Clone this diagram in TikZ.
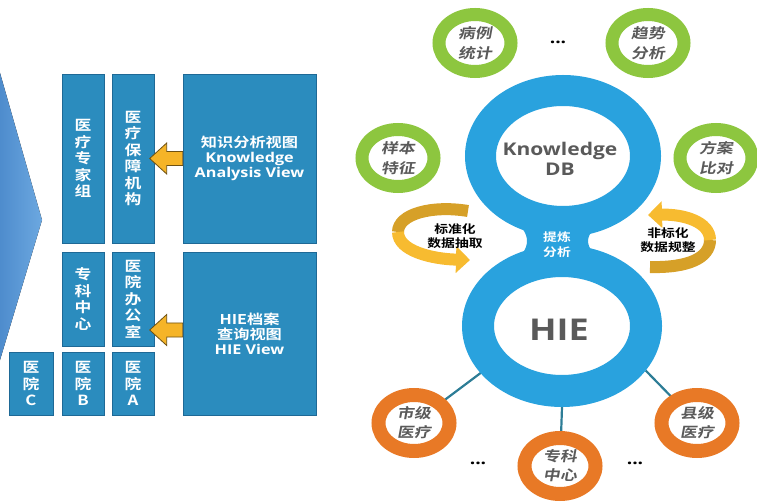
\documentclass[tikz,border=0pt]{standalone}
\usepackage{fontspec}
\usetikzlibrary{shapes.geometric,arrows.meta,calc}
\newfontfamily\cjkb[FakeStretch=1.2]{Noto Sans CJK SC Bold}
\newfontfamily\cjki[FakeStretch=1.2,FakeSlant=0.18]{Noto Sans CJK SC Bold}
\newfontfamily\latb[FakeStretch=1.2]{Open Sans}

\definecolor{boxblue}{RGB}{43,140,190}
\definecolor{boxedge}{RGB}{30,105,150}
\definecolor{chevdark}{RGB}{78,140,205}
\definecolor{chevlight}{RGB}{108,168,224}
\definecolor{ringblue}{RGB}{41,162,222}
\definecolor{leafgreen}{RGB}{141,198,63}
\definecolor{ringorange}{RGB}{232,121,38}
\definecolor{arrowgold}{RGB}{245,180,40}
\definecolor{bandfront}{RGB}{247,187,48}
\definecolor{bandback}{RGB}{214,160,40}
\definecolor{linkteal}{RGB}{45,125,150}
\definecolor{textgray}{RGB}{90,90,90}

\pgfdeclarelayer{back}
\pgfsetlayers{back,main}

\begin{document}
\begin{tikzpicture}[x=1pt,y=-1pt,
  panel/.style={draw=boxedge, line width=0.6pt, fill=boxblue, text=white,
    inner sep=0pt, align=center},
  vbox/.style={panel, minimum width=42pt, font=\cjkb\fontsize{14}{16.5}\selectfont},
  viewbox/.style={panel, minimum width=133pt, font=\fontsize{13.5}{15}\selectfont},
  lift/.style={fill=arrowgold, draw=black!55!arrowgold, line width=0.8pt},
  leaf/.style={ellipse, draw=leafgreen, fill=white, line width=13pt,
    minimum width=72pt, minimum height=57pt, inner sep=0pt, align=center,
    text=textgray, font=\cjki\fontsize{14}{20}\selectfont},
  site/.style={leaf, draw=ringorange, line width=14pt, minimum width=71pt,
    minimum height=56pt, font=\cjki\fontsize{14}{19}\selectfont},
  ring/.style={ellipse, draw=ringblue, fill=white, inner sep=0pt},
  ringlabel/.style={align=center, text=textgray, inner sep=0pt},
  band/.style={line width=12pt},
  bandlabel/.style={align=center, inner sep=0pt, text=black,
    font=\cjkb\fontsize{11.5}{13.5}\selectfont},
  dots/.style={inner sep=0pt, font=\latb\bfseries\fontsize{16}{16}\selectfont},
  link/.style={draw=linkteal, line width=2.2pt}]

\useasboundingbox (0,0) rectangle (757,502);

% left chevron
\fill[left color=chevdark, right color=chevlight] (0,73) -- (42,220) -- (0,360) -- cycle;

% organisation blocks
\node[vbox, minimum height=169pt] (expert) at (83,158.5) {医\\疗\\专\\家\\组};
\node[vbox, minimum height=169pt] (insure) at (133,158.5) {医\\疗\\保\\障\\机\\构};
\node[viewbox, minimum height=169pt] (kview) at (249.5,158.5)
  {{\cjkb 知识分析视图}\\{\latb\bfseries Knowledge}\\{\latb\bfseries Analysis View}};
\node[vbox, minimum height=94pt] (center) at (83,299) {专\\科\\中\\心};
\node[vbox, minimum height=94pt] (office) at (133,299) {医\\院\\办\\公\\室};
\node[vbox, minimum width=44pt, minimum height=63pt] (hospC) at (31,383.5) {医\\院\\C};
\node[vbox, minimum height=63pt] (hospB) at (83,383.5) {医\\院\\B};
\node[vbox, minimum height=63pt] (hospA) at (133,383.5) {医\\院\\A};
\node[viewbox, minimum height=163pt] (hview) at (249.5,333.5)
  {{\cjkb HIE档案}\\{\cjkb 查询视图}\\{\latb\bfseries HIE View}};

% block arrows from the views to the blocks
\filldraw[lift] (kview.west) ++(0,-7) -- ++(-16,0) -- ++(0,-8.5) -- ++(-17,15.5)
  -- ++(17,15.5) -- ++(0,-8.5) -- ++(16,0) -- cycle;
\coordinate (hlevel) at (0,330);
\filldraw[lift] (hview.west |- hlevel) ++(0,-7) -- ++(-16,0) -- ++(0,-8.5) -- ++(-17,15.5)
  -- ++(17,15.5) -- ++(0,-8.5) -- ++(16,0) -- cycle;

% figure-eight of the two stores
\node[ring, line width=31pt, minimum width=165pt, minimum height=131pt] (kdb) at (563,156) {};
\node[ring, line width=32pt, minimum width=168pt, minimum height=130pt] (hiering) at (562,326) {};
\node[ringlabel, font=\latb\bfseries\fontsize{17.5}{19.5}\selectfont] (kdblabel) at (560,159) {Knowledge\\DB};
\node[ringlabel, font=\latb\bfseries\fontsize{30}{30}\selectfont] (hielabel) at (559,330) {HIE};
\node[align=center, inner sep=0pt, text=white, font=\cjkb\fontsize{11.5}{15}\selectfont]
  (refine) at (557,245) {提炼\\分析};

% analysis topics
\node[leaf] (cases) at (475,43) {病例\\统计};
\node[leaf] (trend) at (648,43) {趋势\\分析};
\node[leaf] (sample) at (398,158) {样本\\特征};
\node[leaf] (plan) at (716,158) {方案\\比对};
\node[dots] (moretopics) at (558,42) {...};

% care sites
\node[site] (city) at (414,423) {市级\\医疗};
\node[site] (spec) at (560,466) {专科\\中心};
\node[site] (county) at (697,423) {县级\\医疗};
\node[dots] (moreleft) at (478,463) {...};
\node[dots] (moreright) at (635,463) {...};

\begin{pgfonlayer}{back}
  % waist joining the two rings
  \fill[ringblue] (485,190) .. controls (505,215) and (527,225) .. (527,241)
    .. controls (527,257) and (505,268) .. (485,292) -- (640,292)
    .. controls (617,268) and (588,257) .. (588,241)
    .. controls (588,225) and (620,215) .. (642,190) -- cycle;
  \draw[link] (hiering.-150) -- (city.center);
  \draw[link] (hiering.south) -- (spec.center);
  \draw[link] (hiering.-28) -- (county.center);
\end{pgfonlayer}

% curved ribbons
\draw[band, draw=bandback] (468,211) .. controls (432,205) and (398,214) .. (398,232);
\draw[band, draw=bandfront, -{Triangle[length=14pt,width=26pt]}]
  (398,232) .. controls (398,251) and (432,259) .. (470,260);
\node[bandlabel] (stdlabel) at (455,236) {标准化\\数据抽取};

\draw[band, draw=bandback] (650,267) .. controls (688,268) and (710,258) .. (710,240);
\draw[band, draw=bandfront, -{Triangle[length=14pt,width=26pt]}]
  (710,240) .. controls (710,222) and (684,214) .. (648,215);
\node[bandlabel] (nonstdlabel) at (668,240) {非标化\\数据规整};

\end{tikzpicture}
\end{document}
